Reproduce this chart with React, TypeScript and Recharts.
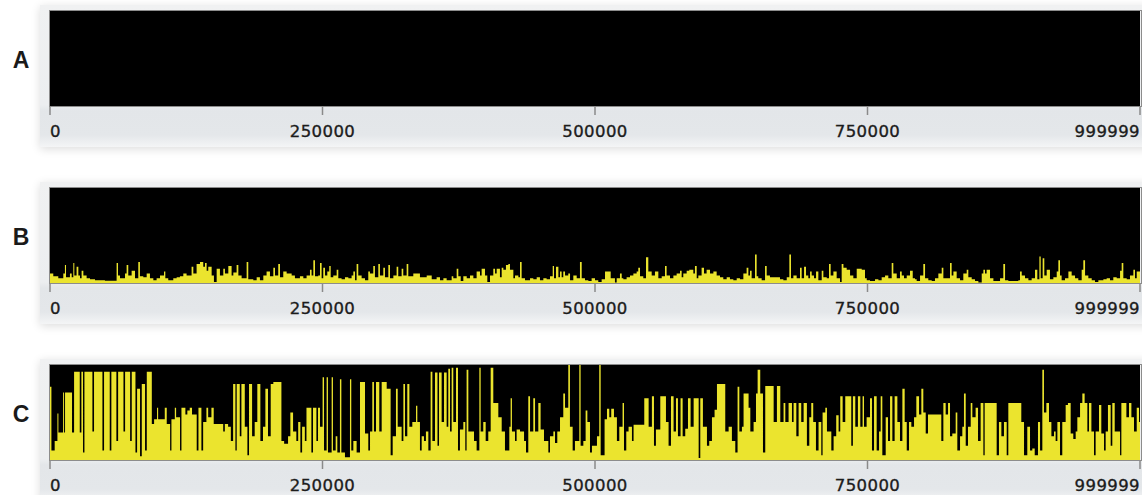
import React from "react";
import { AreaChart, Area, XAxis, YAxis, CartesianGrid } from "recharts";

// positions in kb (thousands of units along the 0..999999 axis), level in % of panel height
const panelLabels = ["A", "B", "C"];
const axisTicks = [0, 250000, 500000, 750000, 999999];

const levelsA: [number, number][] = [[0, 0]];

const levelsB: [number, number][] = [
  [0, 10], [3, 7], [7.6, 5], [12.2, 10], [13.7, 19], [14.7, 6], [18.3, 10], [19.9, 6], [21.4, 21], [22.3, 8],
  [24.4, 17], [26, 8], [27.5, 5], [29, 13], [30.6, 8], [33.6, 5], [36.7, 4], [41.3, 3], [45.8, 3], [50.4, 2.5],
  [61.1, 21], [62.4, 8], [64.2, 5], [68.8, 10], [70.3, 19], [71.8, 8], [74.9, 13], [78, 5], [81, 22], [82.5, 7],
  [85.6, 6], [88.7, 10], [91.7, 5], [94.8, 3], [97.8, 5], [100.9, 8], [104.6, 12], [105.8, 5], [108.5, 3], [113.1, 5],
  [116.2, 6], [119.2, 7], [122.3, 10], [125.3, 8], [129.9, 17], [131.5, 10], [134.5, 20], [137.6, 22], [140.6, 17], [142.2, 21],
  [143.7, 13], [145.2, 17], [148.3, 8], [150.4, 1], [152.9, 15], [155.9, 8], [159, 15], [160.5, 10], [163.6, 18], [166.6, 8],
  [168.2, 11], [171.2, 19], [172.8, 8], [175.8, 5], [180.4, 22], [181.9, 4], [186.5, 3], [189.6, 6], [192.6, 3], [195.7, 8],
  [198.7, 12], [201.8, 7], [204.9, 16], [206.4, 8], [209.4, 20], [211, 6], [214, 12], [217.1, 10], [221.7, 8], [224.7, 5],
  [229.3, 7], [232.4, 5], [235.4, 8], [238.5, 14], [240, 8], [241.6, 24], [243.1, 7], [246.1, 8], [247.7, 21], [249.2, 5],
  [250.7, 16], [252.3, 8], [254.4, 12], [256.2, 18], [257.5, 6], [259.9, 8], [263, 14], [264.5, 5], [267.5, 4], [270.6, 6],
  [273.7, 5], [276.7, 8], [278.3, 12], [279.8, 3], [281.3, 20], [282.8, 8], [285.9, 5], [289, 3], [292, 12], [293.5, 10],
  [296.6, 18], [298.1, 6], [301.2, 20], [302.7, 8], [305.8, 16], [307.3, 6], [310.4, 19], [311.9, 5], [315, 8], [318, 17],
  [319.5, 7], [322.6, 15], [324.1, 8], [327.2, 20], [328.7, 7], [333.3, 10],
  [339.4, 6], [345.6, 8], [350.2, 4], [354.7, 6], [357.8, 3], [360.9, 5], [363.9, 3], [368.5, 7], [370, 5], [373.1, 15],
  [374.6, 7], [376.8, 2], [379.2, 7], [382.3, 5], [385.3, 8], [388.4, 5], [391.4, 12], [394.5, 8], [396, 15], [399.1, 8],
  [401.2, 1], [403.7, 8], [406.7, 15], [408.3, 10], [409.8, 15], [412.8, 6], [414.4, 16], [415.9, 14], [418.3, 19], [420.5, 20],
  [422, 14], [425.1, 5], [426.6, 8], [429.7, 6], [431.2, 22], [432.7, 5], [435.8, 3], [440.4, 5], [443.4, 4], [446.5, 6],
  [449.5, 3], [452.6, 5], [455.6, 4], [458.7, 7], [461.2, 18], [462.4, 5], [464.2, 17], [466.4, 6], [467.9, 12], [469.4, 6],
  [470.9, 12], [472.5, 8], [475.5, 10], [477.1, 3], [480.1, 8], [483.2, 5], [486.2, 22], [487.8, 5], [490.8, 3], [493.9, 2],
  [496.9, 5], [500, 3], [503, 1], [506.1, 4], [509.2, 12], [514.4, 5], [518.3, 0.5], [519.9, 5], [522.9, 10], [524.5, 5],
  [526, 4], [529, 6], [532.1, 8], [535.2, 10], [538.2, 12], [539.7, 16], [541.3, 7], [544.3, 5], [546.8, 27], [548.9, 12],
  [552, 8], [555, 12], [558.1, 5], [561.2, 7], [564.2, 18], [565.7, 8], [568.8, 5], [571.9, 8], [574.9, 10], [578, 13],
  [579.5, 6], [581, 10], [584.1, 13], [586.5, 14], [590.2, 10], [591.7, 18], [593.3, 5], [594.8, 8], [597.8, 16], [600, 10],
  [602.4, 14], [605.5, 10], [608.6, 12], [611.6, 8], [614.7, 6], [617.7, 4], [620.8, 6], [623.8, 4], [626.9, 3], [630, 5],
  [633, 4], [636.1, 10], [639.1, 16], [640.7, 8], [642.2, 13], [643.7, 5], [646.8, 30], [648.3, 7], [649.8, 5], [652.9, 3],
  [656, 18], [657.5, 8], [660.5, 6],
  [669.7, 4], [672.8, 3], [675.9, 6], [678.3, 30], [679.8, 5], [682, 8], [685, 5], [688.1, 16], [689.6, 5], [691.8, 17],
  [693.6, 8], [695.7, 5], [697.3, 12], [698.8, 8], [700.9, 5], [702.8, 12], [704.9, 3], [708, 13], [709.5, 6], [712.6, 5],
  [714.7, 20], [716.2, 8], [718.7, 12], [721.7, 5], [724.8, 1], [726.3, 20], [727.9, 16], [730.9, 14], [734, 8], [737, 5],
  [740.1, 15], [744.7, 14], [747.7, 5], [749.3, 3], [752.3, 2], [756.9, 4], [760, 3], [763, 6], [766.1, 8], [769.1, 5],
  [772.2, 21], [773.7, 10], [776.8, 5], [779.8, 12], [781.4, 8], [783.5, 5], [786, 8], [789, 13], [791.5, 5], [793.6, 4],
  [795.1, 2], [798.2, 8], [801.2, 20], [802.8, 5], [805.8, 3], [808.9, 2], [811.9, 5], [815, 10], [818.1, 16], [819.6, 5],
  [825.7, 21], [827.2, 8], [828.8, 12], [831.8, 5], [834.9, 3], [837.9, 10], [841, 14], [842.5, 6], [845.6, 4], [848.6, 2],
  [851.7, 0.5], [854.8, 10], [856.3, 14], [857.8, 10], [859.3, 14], [862.4, 5], [865.5, 2], [871.6, 5], [874.6, 20], [876.2, 3],
  [879.2, 2], [888.4, 3], [889.9, 12], [891.5, 8], [894.5, 5], [897.6, 3], [900.6, 5], [903.7, 14], [905.8, 4], [907.7, 28],
  [908.9, 5], [910.7, 26], [912.2, 8], [914.4, 14], [917.4, 4], [920.5, 6], [923.6, 12], [925.1, 24], [926.6, 8], [928.1, 3],
  [931.2, 5], [934.3, 12], [937.3, 8], [940.4, 5], [943.4, 3], [946.5, 14], [948, 24], [949.6, 8], [952.6, 5], [955.7, 3],
  [958.7, 1], [961.8, 3], [966.4, 4], [969.4, 5], [972.5, 3], [975.5, 6], [978.6, 5], [981.7, 13], [983.2, 21], [984.7, 5],
  [987.8, 4], [990.8, 8], [993.9, 14], [995.4, 5], [997, 12],
];

const levelsC: [number, number][] = [
  [0, 77], [1.3, 10], [4.3, 20], [6.8, 49], [7.7, 29], [12, 71], [12.9, 29], [13.8, 71], [20.2, 29], [22.1, 93],
  [27.3, 29], [28.8, 93], [30.3, 8], [31.6, 93], [38.9, 30], [40.4, 93], [48.1, 10], [49.6, 93], [54.8, 10], [56.3, 93],
  [60.9, 20], [62.5, 93], [67.4, 30], [68.9, 93], [73.5, 20], [75, 93], [78.4, 8], [79.9, 75], [82.6, 4], [84.2, 80],
  [87.2, 10], [88.8, 93], [93.4, 38], [95.5, 43], [98.2, 55], [99.2, 43], [105.3, 55], [107.1, 38], [110.2, 10], [111.4, 43],
  [114.5, 55], [115.7, 45], [119.3, 10], [120.6, 55], [124.2, 48], [126, 52], [128.2, 55], [130.3, 48], [134.6, 10], [136.2, 55],
  [138.9, 10], [140.5, 40], [143.5, 55], [145.1, 45], [148.1, 55], [150.2, 38], [158.9, 30], [160.4, 38], [163.4, 35], [165.9, 20],
  [168, 80], [170.1, 10], [171.3, 80], [174.1, 25], [175.6, 80], [178.7, 35], [181.1, 5], [182.6, 80], [185.4, 25], [187.8, 40],
  [190.2, 80], [193, 20], [195.4, 35], [197.6, 75], [200, 25], [202.5, 80], [204.9, 82], [212.3, 20], [214.8, 17], [218.4, 25],
  [220.5, 50], [223, 30], [226, 20], [227.7, 40], [229.7, 8], [231.3, 35], [233.8, 20], [235.3, 55], [239.8, 8], [241.3, 55],
  [244.4, 20], [245.9, 55],
  [247.7, 35], [250.1, 87], [251.4, 10], [253.8, 87], [255, 8], [258.4, 87], [259.6, 10], [262.1, 25], [263.6, 8], [266, 85],
  [267.3, 8], [270.6, 3], [275.2, 85], [276.4, 10], [278.3, 20], [281.3, 8], [284.4, 82], [289, 28], [292, 10], [293.6, 30],
  [295.7, 82], [297.2, 30], [299.1, 82], [302.1, 30], [304.3, 82], [308.9, 75], [312.5, 5], [314.4, 25], [317.4, 75], [319, 35],
  [322.6, 20], [324.2, 80], [325.7, 25], [327.8, 80], [329.7, 35], [332.4, 40], [335.8, 57], [337, 40], [339.4, 10], [341, 25],
  [343.1, 20], [344.9, 30], [347.1, 10], [349.2, 93], [350.8, 20], [353.2, 92], [355.5, 15], [356.9, 92], [359.3, 40], [361.5, 92],
  [363.9, 35], [365.4, 96], [367, 30], [368.5, 97], [370, 40], [372.5, 97], [374.3, 10], [376.1, 32], [379.2, 40], [381, 10],
  [382.2, 95], [383.8, 30], [386.8, 30], [389, 20], [391.4, 10], [393.9, 97], [395.1, 30], [397.5, 40], [399.7, 20], [402.1, 30],
  [404.3, 97], [406.7, 60], [409.8, 60], [411.3, 45], [414.4, 30], [417.4, 10], [421.4, 35], [422.6, 65], [423.8, 30], [426.6, 20],
  [428.1, 32], [431.2, 30], [434.9, 20], [436.7, 8], [438.8, 67], [440.4, 30], [443.4, 65], [445, 30], [448, 60], [450.1, 32],
  [453.2, 20], [457.2, 8], [458.7, 25], [461.8, 30], [463.3, 18], [465.4, 30], [467.9, 45], [470.9, 70], [472.5, 55], [475.5, 100],
  [477, 35], [479.5, 10], [481.6, 20], [485.6, 100], [486.8, 15], [489.3, 20], [491.4, 52], [493, 40], [495.4, 8],
  [497.2, 15], [501.8, 25], [503.9, 100], [505.2, 5], [508.8, 43], [511, 54], [513.1, 45], [514.9, 54], [517.4, 45], [520.1, 20],
  [522.3, 35], [525.3, 60], [526.6, 10], [528.7, 30], [530.8, 35], [533.9, 20], [535.4, 37], [540, 37], [545.2, 65], [549.2, 35],
  [552.2, 67], [554.1, 15], [555.9, 32], [559.9, 67], [565.1, 40], [567.5, 15], [569.7, 67], [572.1, 30], [574.3, 65], [576.1, 25],
  [578.5, 65], [580.4, 25], [582.8, 33], [585.3, 65], [587.7, 35], [590.5, 65], [595.1, 2], [596.6, 65], [599, 35], [602.7, 15],
  [604.8, 20], [607.3, 45], [609.7, 53], [611.9, 80], [618, 80], [619.5, 30], [622.6, 35], [625.6, 20], [628.7, 8], [630.8, 77],
  [632.4, 30], [634.8, 35], [636.3, 70], [640.9, 55], [642.5, 30], [645.5, 40], [647.7, 70], [649.2, 95], [651.6, 70], [654.1, 8],
  [656.2, 78], [662.3, 78], [663.9, 40], [666.9, 78], [670, 40], [673, 60], [674.6, 40], [677.6, 60], [680.7, 40], [682.2, 60],
  [684.7, 25], [686.8, 60], [689.2, 40], [691.4, 60], [694.4, 15], [696.6, 45], [698.4, 60], [700.2, 40], [702.7, 10], [705.1, 40],
  [707.6, 5], [708.8, 50], [711.3, 55], [712.8, 30], [716.8, 10], [718.9, 25], [721.3, 47], [723.5, 30], [725, 67], [727.2, 40],
  [729.6, 67], [735.1, 15], [736.6, 67], [738.8, 35], [741.2, 67], [743.4, 35], [745.5, 67],
  [746.8, 35], [749.2, 45], [752.3, 65], [754.1, 10], [756, 67], [758.4, 10], [760.6, 30], [762.1, 67], [763.6, 5], [766.7, 45],
  [768.8, 20], [770.7, 67], [772.8, 20], [774.9, 67], [777.4, 40], [779.8, 20], [782, 75], [784.1, 40], [786, 10], [788.1, 40],
  [790.2, 35], [792.7, 45], [794.8, 67], [797.3, 48], [799.4, 75], [801.2, 50], [803.4, 28], [805.5, 48], [809.5, 48], [817.7, 20],
  [819.6, 60], [821.7, 48], [823.9, 60], [825.7, 25], [827.8, 28], [830.9, 50], [832.4, 10], [834.9, 25], [837, 35], [838.5, 70],
  [840.1, 15], [842.2, 35], [844.7, 60], [846.2, 45], [849.2, 55], [851.4, 20], [853.8, 60], [856.3, 5], [857.5, 60], [864.5, 60],
  [868.5, 5], [870.6, 40], [872.8, 25], [875.2, 40], [877.7, 5], [879.2, 60], [887.5, 60], [891.1, 40], [893.6, 5], [896.6, 35],
  [899.1, 10], [901.2, 12], [903.4, 5], [906.4, 40], [908.3, 10], [910.4, 95], [911.9, 50], [914.1, 60], [916.5, 40], [918.7, 25],
  [921.1, 30], [922.6, 20], [924.2, 40], [926.6, 5], [928.7, 40], [931.8, 58], [933.9, 60], [936.4, 28], [938.8, 22], [941, 30],
  [942.5, 45], [945, 60], [947.1, 70], [949.2, 60], [951.7, 30], [953.2, 60], [955.4, 30], [957.8, 5], [959.3, 30], [962.4, 58],
  [964.5, 28], [967, 10], [968.5, 30], [970.6, 58], [973.1, 15], [974.6, 60], [976.8, 30], [981.7, 5], [982.9, 60], [987.5, 45],
  [989.9, 60], [992.1, 45], [994.5, 30], [997, 55], [999.1, 40],
];

const END = 999999;

function toRows(levels: [number, number][]) {
  const rows = levels.map(([kb, v]) => ({ x: Math.round(kb * 1000), v }));
  rows.push({ x: END, v: levels[levels.length - 1][1] });
  return rows;
}

const panels = [
  { label: panelLabels[0], top: 0, rows: toRows(levelsA) },
  { label: panelLabels[1], top: 177, rows: toRows(levelsB) },
  { label: panelLabels[2], top: 354, rows: toRows(levelsC) },
];

function AxisTick(props: any) {
  const { x, y, payload } = props;
  const v = payload.value;
  const anchor = v === 0 ? "start" : v === END ? "end" : "middle";
  return (
    <text
      x={x}
      y={y}
      dy={20}
      textAnchor={anchor}
      fill="#1c1c1c"
      stroke="#1c1c1c"
      strokeWidth={0.35}
      fontFamily="DejaVu Sans, sans-serif"
      fontSize={16.5}
      letterSpacing={0.4}
    >
      {v}
    </text>
  );
}

function Panel({ label, top, rows }: { label: string; top: number; rows: { x: number; v: number }[] }) {
  return (
    <div style={{ position: "absolute", left: 0, top, width: 1142, height: 160 }}>
      <div
        style={{
          position: "absolute",
          left: 40,
          top: 5,
          width: 1110,
          height: 142,
          background: "linear-gradient(to bottom, #f0f1f2 0px, #eceef0 100px, #e3e6e9 106px, #e4e7ea 130px, #f4f5f6 142px)",
          boxShadow: "0 2px 9px rgba(0,0,0,0.14)",
        }}
      />
      <div
        style={{
          position: "absolute",
          left: 8,
          top: 46,
          width: 26,
          textAlign: "center",
          fontFamily: "Liberation Sans, Arial, sans-serif",
          fontWeight: "bold",
          fontSize: 23,
          lineHeight: "28px",
          color: "#1a1a1a",
        }}
      >
        {label}
      </div>
      <div style={{ position: "absolute", left: 0, top: 0 }}>
        <AreaChart width={1142} height={150} data={rows} margin={{ top: 11, right: 2, left: 50, bottom: 0 }}>
          <CartesianGrid horizontal={false} vertical={false} fill="#000" fillOpacity={1} />
          <XAxis
            type="number"
            dataKey="x"
            domain={[0, END]}
            ticks={axisTicks}
            interval={0}
            height={44}
            axisLine={false}
            tickSize={9}
            tickMargin={2}
            tickLine={{ stroke: "#8a8a8a", strokeWidth: 1.5 }}
            tick={<AxisTick />}
          />
          <YAxis hide domain={[0, 100]} />
          <Area
            type="stepAfter"
            dataKey="v"
            stroke="none"
            fill="#ebe42e"
            fillOpacity={1}
            isAnimationActive={false}
          />
        </AreaChart>
      </div>
      <div
        style={{
          position: "absolute",
          left: 49,
          top: 10,
          width: 1093,
          height: 97,
          border: "1.5px solid #8c8c8c",
          boxSizing: "border-box",
          pointerEvents: "none",
        }}
      />
    </div>
  );
}

export default function App() {
  return (
    <div style={{ position: "absolute", left: 0, top: 0, width: 1142, height: 495, background: "#fff", overflow: "hidden" }}>
      {panels.map((p) => (
        <Panel key={p.label} label={p.label} top={p.top} rows={p.rows} />
      ))}
    </div>
  );
}
